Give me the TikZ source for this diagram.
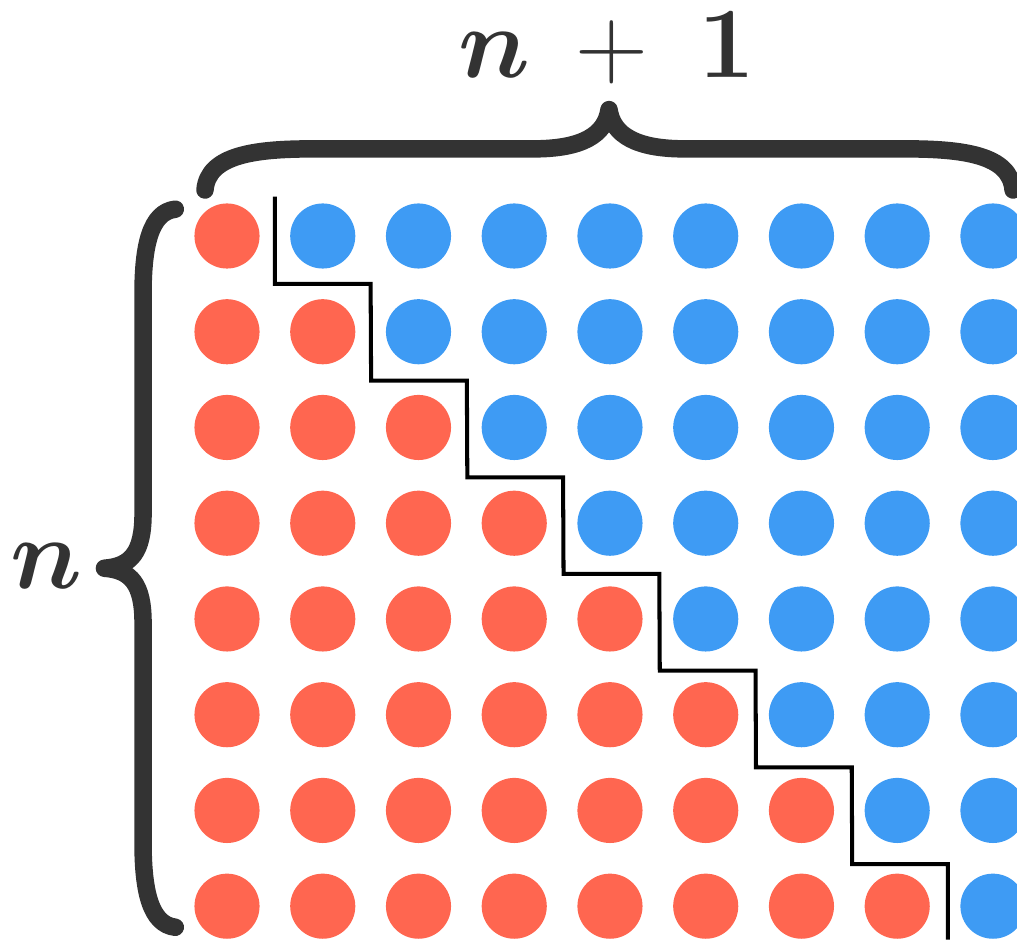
\RequirePackage{fix-cm}
\documentclass[tikz,border=0pt]{standalone}
\usepackage{amsmath,bm}
\definecolor{dotred}{HTML}{FF6650}
\definecolor{dotblue}{HTML}{3E9BF4}
\definecolor{bracegray}{HTML}{333333}
\tikzset{
  reddot/.style={circle, fill=dotred, minimum size=0.68cm, inner sep=0pt},
  bluedot/.style={circle, fill=dotblue, minimum size=0.68cm, inner sep=0pt},
  bracepath/.style={draw=bracegray, line width=5.2pt, line cap=round, line join=round},
  bracelabel/.style={text=bracegray, anchor=base},
}
\begin{document}
\begin{tikzpicture}[font=\fontsize{30}{36}\selectfont]
  % 画布范围
  \useasboundingbox (-2.371,-7.384) rectangle (8.251,2.465);
  \clip (-2.371,-7.384) rectangle (8.251,2.465);

  % 点阵：第 r 行有 r+1 个红点
  \foreach \r in {0,...,7}
    \foreach \c in {0,...,8} {
      \ifnum\c>\r
        \node[bluedot] (d\r\c) at (\c,-\r) {};
      \else
        \node[reddot] (d\r\c) at (\c,-\r) {};
      \fi
    }

  % 阶梯分界线
  \draw[line width=1.2pt] (0.5,0.41)
    \foreach \k in {0,...,6} { -- (\k*1.005+0.5,-\k*1.01-0.5) -- (\k*1.005+1.5,-\k*1.01-0.5) }
    -- (7.53,-7.35);

  % 上方花括号
  \coordinate (TL) at (-0.23,0.48);
  \coordinate (TT) at (3.99,1.32);
  \coordinate (TR) at (8.21,0.48);
  \draw[bracepath] (TL) .. controls (-0.2,0.85) and (0.3,0.91) .. (0.9,0.91)
    -- (3.2,0.91) .. controls (3.7,0.91) and (3.95,1.05) .. (TT)
    .. controls (4.03,1.05) and (4.28,0.91) .. (4.78,0.91)
    -- (7.08,0.91) .. controls (7.68,0.91) and (8.18,0.85) .. (TR);

  % 左侧花括号
  \coordinate (LT) at (-0.54,0.28);
  \coordinate (LM) at (-1.28,-3.47);
  \coordinate (LB) at (-0.54,-7.22);
  \draw[bracepath] (LT) .. controls (-0.8,0.25) and (-0.877,-0.1) .. (-0.877,-0.6)
    -- (-0.877,-2.9) .. controls (-0.877,-3.3) and (-1.0,-3.45) .. (LM)
    .. controls (-1.0,-3.49) and (-0.877,-3.64) .. (-0.877,-4.04)
    -- (-0.877,-6.34) .. controls (-0.877,-6.84) and (-0.8,-7.19) .. (LB);

  % 标注
  \node[bracelabel] (toplabel) at (3.97,1.66) {$\bm{n}\mskip8mu{+}\mskip9mu\mathbf{1}$};
  \node[bracelabel] (leftlabel) at (-1.89,-3.68) {$\bm{n}$};
\end{tikzpicture}
\end{document}
